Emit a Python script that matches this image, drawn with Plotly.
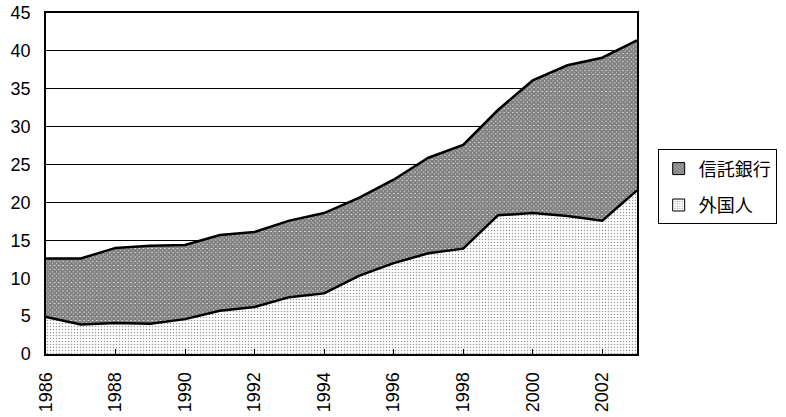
import plotly.graph_objects as go

years = list(range(1986, 2004))
foreign = [4.9, 3.9, 4.1, 4.0, 4.6, 5.7, 6.2, 7.5, 8.0, 10.3, 12.0, 13.3, 13.9, 18.3, 18.6, 18.2, 17.6, 21.6]
total = [12.6, 12.6, 14.0, 14.3, 14.4, 15.7, 16.1, 17.6, 18.6, 20.6, 23.0, 25.9, 27.6, 32.2, 36.1, 38.1, 39.1, 41.4]
trust = [round(t - f, 2) for t, f in zip(total, foreign)]
tick_years = list(range(1986, 2003, 2))

pat_foreign = dict(shape=".", fgcolor="#333333", bgcolor="#ffffff", size=3, solidity=0.2)
pat_trust = dict(shape="x", fgcolor="#000000", bgcolor="#ffffff", size=3, solidity=0.9)

fig = go.Figure()
fig.add_trace(go.Scatter(
    x=years, y=foreign, name="外国人", mode="lines", stackgroup="one",
    line=dict(color="black", width=2.5), fillcolor="white",
    fillpattern=pat_foreign, showlegend=False,
))
fig.add_trace(go.Scatter(
    x=years, y=trust, name="信託銀行", mode="lines", stackgroup="one",
    line=dict(color="black", width=2.5), fillcolor="white",
    fillpattern=pat_trust, showlegend=False,
))
# legend swatches
fig.add_trace(go.Bar(
    x=[None], y=[None], name="信託銀行", legendgroup="a", legendrank=1,
    marker=dict(color="white", pattern=pat_trust, line=dict(color="black", width=1)),
))
fig.add_trace(go.Bar(
    x=[None], y=[None], name="外国人", legendgroup="b", legendrank=2,
    marker=dict(color="white", pattern=pat_foreign, line=dict(color="black", width=1)),
))

font_main = "Liberation Sans, Arial, sans-serif"
fig.update_layout(
    width=786, height=417,
    margin=dict(l=46, r=149, t=13, b=63, autoexpand=False),
    paper_bgcolor="white", plot_bgcolor="white",
    showlegend=True,
    legend=dict(
        x=1.035, y=0.6, xanchor="left", yanchor="top",
        bordercolor="black", borderwidth=1, bgcolor="white",
        font=dict(family="Noto Sans CJK JP", size=18, color="black"),
        itemwidth=30, tracegroupgap=10, traceorder="grouped",
    ),
    xaxis=dict(
        range=[1986, 2003], tickvals=tick_years, ticktext=[str(y) for y in tick_years],
        tickangle=-90, ticks="inside", ticklen=5, tickcolor="black",
        showgrid=False, showline=True, linecolor="black", linewidth=2, mirror=True,
        tickfont=dict(family=font_main, size=18, color="black"),
        zeroline=False, automargin=False, ticklabelstandoff=9,
        ticklabeloverflow="allow",
    ),
    yaxis=dict(
        range=[0, 45], dtick=5, showgrid=True, gridcolor="black", gridwidth=1,
        showline=True, linecolor="black", linewidth=1.5, mirror=True,
        ticks="", tickfont=dict(family=font_main, size=18, color="black"),
        zeroline=False, automargin=False, ticklabelstandoff=10,
        ticklabeloverflow="allow",
    ),
)
fig.write_html("out.html", config={"displayModeBar": False},
               post_script="document.body.style.margin='0';")
